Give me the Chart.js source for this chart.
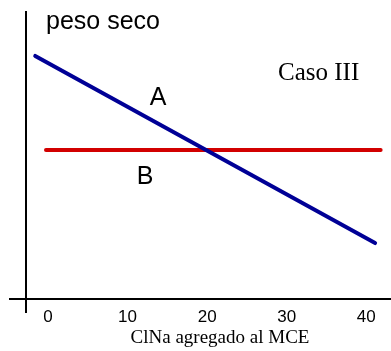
<!DOCTYPE html>
<html>
<head>
<meta charset="utf-8">
<script src="https://cdn.jsdelivr.net/npm/chart.js@4/dist/chart.umd.min.js"></script>
<style>
  body { margin: 0; background: #fff; }
  #wrap { width: 391px; height: 351px; }
</style>
</head>
<body>
<div id="wrap"><canvas id="c" width="391" height="351"></canvas></div>
<script>
// data
const xTicks = [0, 10, 20, 30, 40];
const lineA_x = [-1.6, 41.1];
const lineA_y = [84.7, 19.5];
const lineB_x = [-0.25, 41.8];
const lineB_y = [51.9, 51.9];

const sans = '"Liberation Sans", Arial, sans-serif';
const serif = '"Liberation Serif", "Times New Roman", serif';

function toPoints(xs, ys) {
  return xs.map((x, i) => ({ x: x, y: ys[i] }));
}

// free text labels of the figure
const labelsPlugin = {
  id: 'labels',
  afterDraw(chart) {
    const ctx = chart.ctx;
    ctx.save();
    ctx.fillStyle = '#000';
    ctx.textBaseline = 'alphabetic';

    ctx.textAlign = 'left';
    ctx.font = '25px ' + sans;
    ctx.fillText('peso seco', 46, 29);

    ctx.textAlign = 'center';
    ctx.fillText('A', 158, 105);
    ctx.fillText('B', 145, 184);

    ctx.textAlign = 'left';
    ctx.font = '25px ' + serif;
    ctx.fillText('Caso III', 278, 80);

    ctx.textAlign = 'center';
    ctx.font = '19px ' + serif;
    ctx.fillText('ClNa agregado al MCE', 220, 343);
    ctx.restore();
  }
};

const data = {
  datasets: [{
    label: 'A',
    data: toPoints(lineA_x, lineA_y),
    borderColor: 'rgb(0, 0, 150)',
    borderWidth: 4,
    borderCapStyle: 'round',
    pointRadius: 0,
    tension: 0
  }, {
    label: 'B',
    data: toPoints(lineB_x, lineB_y),
    borderColor: 'rgb(210, 0, 0)',
    borderWidth: 4,
    borderCapStyle: 'round',
    pointRadius: 0,
    tension: 0
  }]
};

const config = {
  type: 'line',
  data: data,
  plugins: [labelsPlugin],
  options: {
    responsive: false,
    animation: false,
    layout: { padding: { left: 10, top: 12, right: 0, bottom: 39 } },
    plugins: {
      legend: { display: false },
      tooltip: { enabled: false }
    },
    scales: {
      x: {
        type: 'linear',
        position: { y: 0 },
        min: -4.77,
        max: 43.1,
        afterBuildTicks: scale => {
          scale.ticks = xTicks.map(v => ({ value: v }));
        },
        grid: { display: false, drawTicks: false },
        border: { display: true, color: '#000', width: 2 },
        ticks: {
          color: '#000',
          padding: 8,
          maxRotation: 0,
          font: { family: sans, size: 17 }
        }
      },
      y: {
        type: 'linear',
        position: { x: -2.76 },
        min: -4.5,
        max: 100,
        grid: { display: false, drawTicks: false },
        border: { display: true, color: '#000', width: 2 },
        ticks: { display: false }
      }
    }
  }
};

new Chart(document.getElementById('c'), config);
</script>
</body>
</html>
